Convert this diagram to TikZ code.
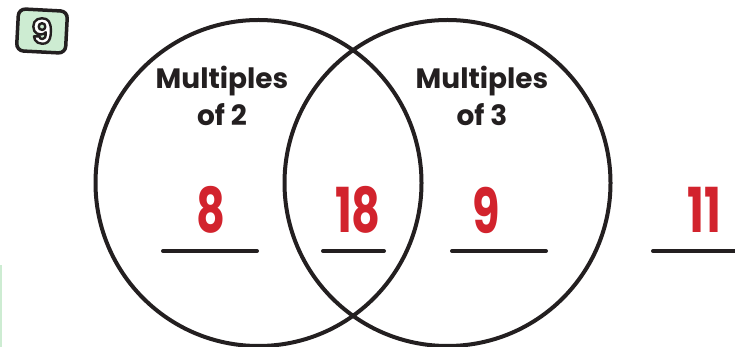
\documentclass[tikz,border=0pt]{standalone}
\usepackage{fontspec}
\setmainfont{Poppins}
\definecolor{answerred}{RGB}{210, 35, 45}
\definecolor{badgegreen}{RGB}{205, 236, 210}
\definecolor{inkblack}{RGB}{35, 31, 32}
\usetikzlibrary{positioning}

% outlined white digit for the badge
\newcommand{\outlinedigit}[1]{%
  \special{pdf:literal direct 0.137 0.122 0.125 RG 2.4 w 1 J 1 j 2 Tr}#1\special{pdf:literal direct 0 Tr}}

\tikzset{
  ring/.style={draw=inkblack, line width=4pt},
  heading/.style={font=\bfseries\fontsize{28}{37}\selectfont, align=center, text=inkblack, inner sep=0pt},
  answer/.style={font=\bfseries\fontsize{62}{62}\selectfont, text=answerred, inner sep=0pt, xscale=0.72},
  blank/.style={draw=inkblack, line width=4pt, line cap=round}
}

\begin{document}
\begin{tikzpicture}[x=1pt, y=-1pt]
  \useasboundingbox (0,0) rectangle (735,347);

  % badge
  \node[draw=inkblack, fill=badgegreen, line width=3.5pt, rounded corners=7pt,
        minimum width=49pt, minimum height=42pt, rotate=-3] (badge) at (42,31) {};
  \node[font=\bfseries\fontsize{34}{34}\selectfont, text=white, inner sep=0pt] (badgenum) at (badge.center)
        {\outlinedigit{9}};

  % left page edge
  \draw[badgegreen, line width=1.5pt] (0.75,265) -- (0.75,347);

  % Venn circles
  \draw[ring] (258.5,183) circle (163pt);
  \draw[ring] (447.5,183) circle (163pt);

  % headings
  \node[heading] (two) at (222,96) {Multiples\\of 2};
  \node[heading] (three) at (482,96) {Multiples\\of 3};

  % answers
  \node[answer] (eight) at (211,210) {8};
  \node[answer] (eighteen) at (358,210) {18};
  \node[answer] (nine) at (486,210) {9};
  \node[answer] (eleven) at (704,210) {11};

  % blanks
  \draw[blank] (163,251) -- (257,251);
  \draw[blank] (323,251) -- (384,251);
  \draw[blank] (452,251) -- (546,251);
  \draw[blank] (653,251) -- (740,251);
\end{tikzpicture}
\end{document}
